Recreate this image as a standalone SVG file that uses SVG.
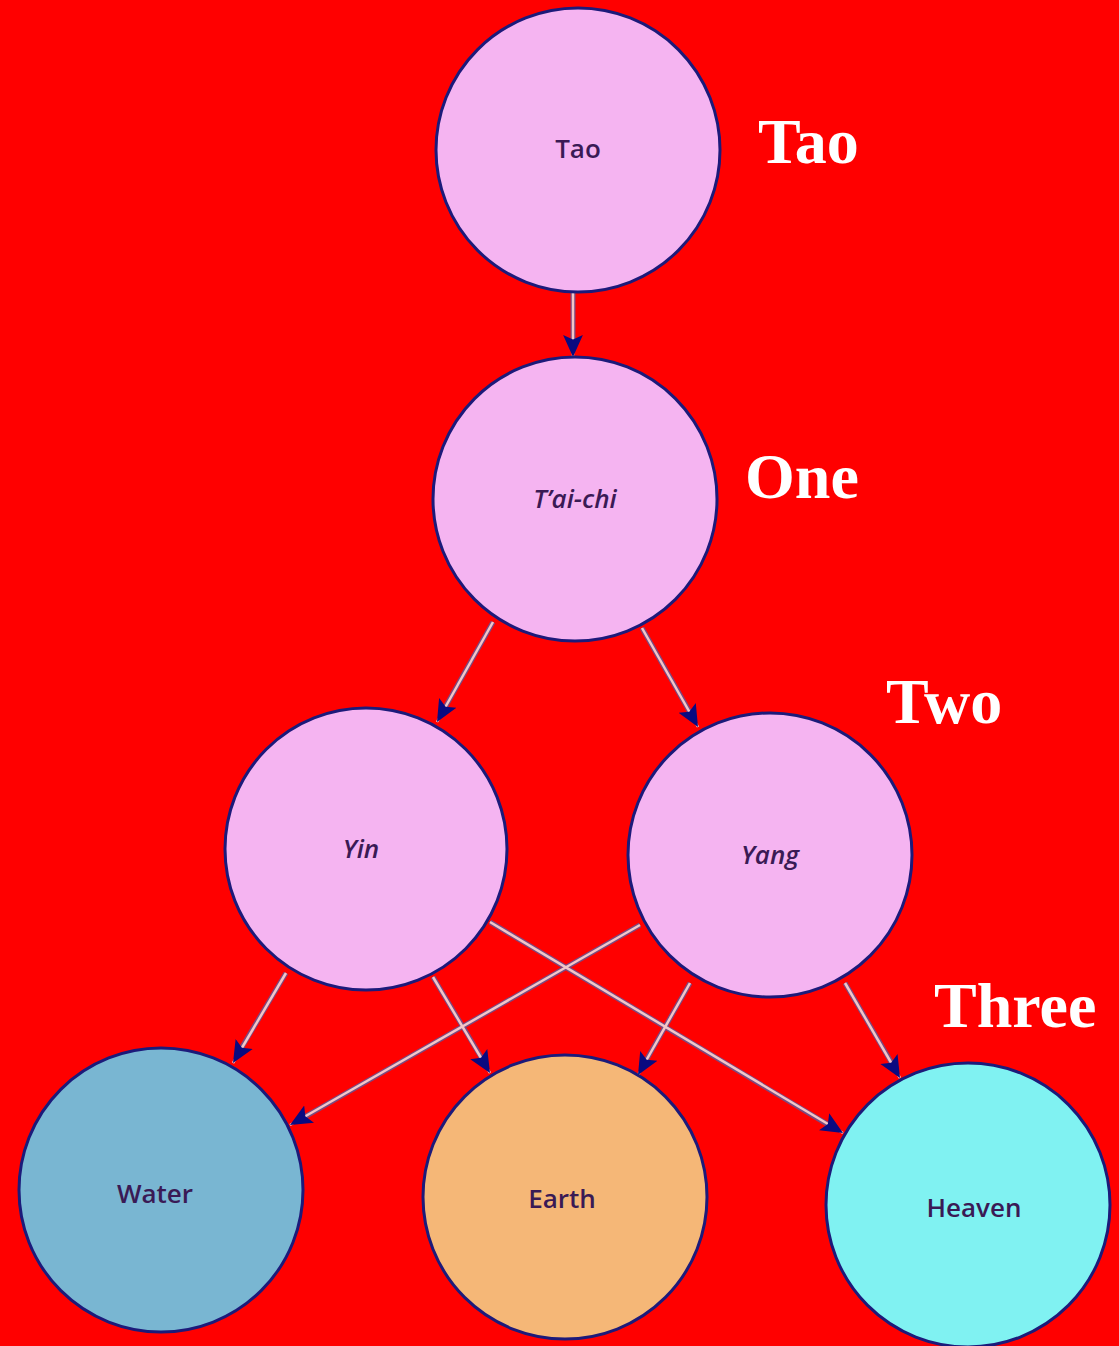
<svg xmlns="http://www.w3.org/2000/svg" width="1119" height="1346" viewBox="0 0 1119 1346">
<style>
.n{stroke:#1c1a7a;stroke-width:3}
.p{fill:#f5b4f1}
.t{font-family:"Open Sans","Liberation Sans",sans-serif;font-size:26px;font-weight:600;fill:#3a1a55;text-anchor:middle}
.i{font-style:italic}
.lab{font-family:"Liberation Serif",serif;font-weight:bold;font-size:64px;fill:#ffffff}
.c{stroke:#7a4a80;stroke-width:5;fill:none}
.c2{stroke:#f2c6c8;stroke-width:2.5;fill:none}
</style>
<defs>
<marker id="a" viewBox="0 0 20 20" refX="20" refY="10" markerWidth="22" markerHeight="22" markerUnits="userSpaceOnUse" orient="auto">
<path d="M0,1 L20,10 L0,19 L4,10 z" fill="#0a0a80"/>
</marker>
</defs>
<rect width="1119" height="1346" fill="#ff0000"/>
<g id="connectors">
<g class="c">
<line x1="573" y1="292" x2="573" y2="345"/>
<line x1="493" y1="622" x2="443" y2="711"/>
<line x1="642" y1="628" x2="692" y2="716"/>
<line x1="286" y1="973" x2="239" y2="1052"/>
<line x1="433" y1="977" x2="484" y2="1062"/>
<line x1="490" y1="922" x2="832" y2="1127"/>
<line x1="640" y1="925" x2="301" y2="1119"/>
<line x1="690" y1="983" x2="644" y2="1064"/>
<line x1="845" y1="983" x2="894" y2="1067"/>
</g>
<g class="c2">
<line x1="573" y1="292" x2="573" y2="357" marker-end="url(#a)"/>
<line x1="493" y1="622" x2="437" y2="722" marker-end="url(#a)"/>
<line x1="642" y1="628" x2="698" y2="727" marker-end="url(#a)"/>
<line x1="286" y1="973" x2="233" y2="1063" marker-end="url(#a)"/>
<line x1="433" y1="977" x2="490" y2="1073" marker-end="url(#a)"/>
<line x1="490" y1="922" x2="843" y2="1133" marker-end="url(#a)"/>
<line x1="640" y1="925" x2="290" y2="1125" marker-end="url(#a)"/>
<line x1="690" y1="983" x2="638" y2="1075" marker-end="url(#a)"/>
<line x1="845" y1="983" x2="900" y2="1078" marker-end="url(#a)"/>
</g>
</g>
<g id="tao"><circle class="n p" cx="578" cy="150" r="142"/><text class="t" x="578" y="158">Tao</text></g>
<g id="taichi"><circle class="n p" cx="575" cy="499" r="142"/><text class="t i" x="575" y="508">T’ai-chi</text></g>
<g id="yin"><circle class="n p" cx="366" cy="849" r="141"/><text class="t i" x="361" y="858">Yin</text></g>
<g id="yang"><circle class="n p" cx="770" cy="855" r="142"/><text class="t i" x="770" y="864">Yang</text></g>
<g id="water"><circle class="n" fill="#79b6d2" cx="161" cy="1190" r="142"/><text class="t" x="155" y="1203">Water</text></g>
<g id="earth"><circle class="n" fill="#f5b777" cx="565" cy="1197" r="142"/><text class="t" x="562" y="1208">Earth</text></g>
<g id="heaven"><circle class="n" fill="#80f2f2" cx="968" cy="1205" r="142"/><text class="t" x="974" y="1217">Heaven</text></g>
<g id="labels">
<text class="lab" x="758" y="163">Tao</text>
<text class="lab" x="745" y="498">One</text>
<text class="lab" x="886" y="723">Two</text>
<text class="lab" x="934" y="1027">Three</text>
</g>
</svg>
